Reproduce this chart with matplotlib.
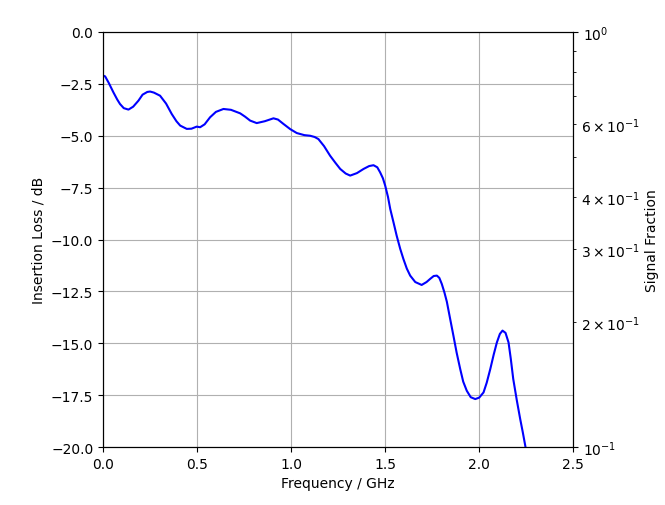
import matplotlib
matplotlib.use("Agg")
import matplotlib.pyplot as plt

# insertion loss curve
freq_ghz = [0.0, 0.011, 0.03, 0.055, 0.075, 0.09, 0.11, 0.135, 0.16, 0.188, 0.21, 0.235,
            0.25, 0.27, 0.303, 0.335, 0.365, 0.39, 0.41, 0.445, 0.47, 0.498, 0.516,
            0.54, 0.569, 0.60, 0.64, 0.68, 0.729, 0.755, 0.782, 0.817, 0.86, 0.906,
            0.93, 0.959, 0.995, 1.03, 1.07, 1.101, 1.125, 1.145, 1.175, 1.207, 1.235,
            1.261, 1.29, 1.314, 1.35, 1.385, 1.415, 1.438, 1.458, 1.473, 1.488, 1.50,
            1.515, 1.527, 1.545, 1.561, 1.58, 1.597, 1.615, 1.633, 1.66, 1.694, 1.72,
            1.739, 1.758, 1.775, 1.788, 1.801, 1.815, 1.828, 1.845, 1.863, 1.88,
            1.899, 1.915, 1.934, 1.955, 1.979, 2.0, 2.023, 2.04, 2.059, 2.077, 2.094,
            2.11, 2.124, 2.14, 2.156, 2.168, 2.181, 2.20, 2.218, 2.232, 2.245, 2.26]
loss_db = [-2.1, -2.14, -2.45, -2.91, -3.25, -3.47, -3.67, -3.74, -3.6, -3.31, -3.02, -2.89,
           -2.87, -2.92, -3.07, -3.45, -3.95, -4.3, -4.51, -4.67, -4.66, -4.56, -4.59,
           -4.45, -4.11, -3.85, -3.71, -3.75, -3.92, -4.08, -4.27, -4.39, -4.3, -4.16,
           -4.22, -4.43, -4.68, -4.87, -4.97, -5.0, -5.06, -5.16, -5.5, -5.96, -6.3,
           -6.6, -6.82, -6.92, -6.8, -6.6, -6.46, -6.42, -6.52, -6.76, -7.05, -7.4,
           -7.95, -8.53, -9.2, -9.81, -10.45, -10.94, -11.4, -11.74, -12.05, -12.19, -12.05,
           -11.9, -11.76, -11.74, -11.85, -12.14, -12.55, -13.0, -13.8, -14.64, -15.45,
           -16.24, -16.85, -17.29, -17.6, -17.69, -17.62, -17.37, -16.9, -16.24, -15.55, -14.96,
           -14.55, -14.39, -14.5, -14.96, -15.75, -16.72, -17.75, -18.65, -19.3, -19.94, -20.8]

fig = plt.figure(figsize=(6.65, 5.06), dpi=100)
ax = fig.add_axes([0.155, 0.1146, 0.707, 0.8202])
ax.plot(freq_ghz, loss_db, color="blue", lw=1.5)
ax.set_xlim(0, 2.5)
ax.set_ylim(-20, 0)
ax.set_xlabel("Frequency / GHz")
ax.set_ylabel("Insertion Loss / dB")
ax.grid(True)

ax2 = ax.twinx()
ax2.set_yscale("log")
ax2.set_ylim(0.1, 1)
ax2.set_ylabel("Signal Fraction")

fig.savefig("out.png", dpi=100)
